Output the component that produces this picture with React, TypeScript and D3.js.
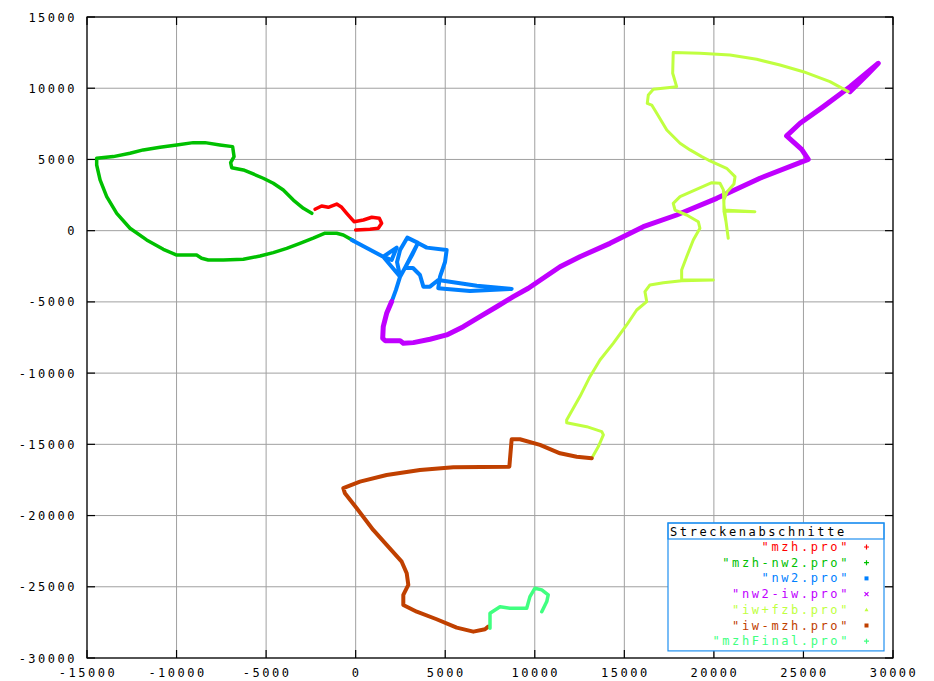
import React from 'react';
import * as d3 from 'd3';

type P = [number, number];

const xTicks = [-15000, -10000, -5000, 0, 5000, 10000, 15000, 20000, 25000, 30000];
const yTicks = [15000, 10000, 5000, 0, -5000, -10000, -15000, -20000, -25000, -30000];

const legendTitle = 'Streckenabschnitte';
const seriesNames = ['"mzh.pro"', '"mzh-nw2.pro"', '"nw2.pro"', '"nw2-iw.pro"', '"iw+fzb.pro"', '"iw-mzh.pro"', '"mzhFinal.pro"'];
const seriesColors = ['#ff0000', '#00c000', '#0080ff', '#c000ff', '#c0ff40', '#c04000', '#40ff80'];
const seriesWidths = [3.5, 3.5, 4, 5, 3, 4, 3.5];
const seriesMarkers = ['plus', 'plus', 'square', 'cross', 'triangle', 'square', 'plus'];

const mzh: P[] = [[-2270, 1500], [-1900, 1730], [-1530, 1640], [-1060, 1870], [-780, 1640], [-500, 1220], [-90, 630], [430, 750], [900, 940], [1320, 870], [1450, 520], [1260, 170], [800, 100], [0, 50]];

const mzhNw2: P[] = [[-2450, 1220], [-2920, 1570], [-3480, 2150], [-4040, 2860], [-4600, 3330], [-5160, 3680], [-5720, 3980], [-6270, 4260], [-6920, 4420], [-6980, 4770], [-6790, 5200], [-6870, 5900], [-7580, 6020], [-8410, 6180], [-9070, 6180], [-9990, 6020], [-10920, 5860], [-11860, 5670], [-12600, 5430], [-13530, 5200], [-14460, 5080], [-14460, 4610], [-14270, 3560], [-13900, 2390], [-13340, 1220], [-12600, 170], [-11670, -650], [-10740, -1310], [-9990, -1710], [-8880, -1710], [-8600, -1940], [-8230, -2060], [-7390, -2060], [-6270, -2010], [-5340, -1780], [-4600, -1540], [-3850, -1240], [-3110, -890], [-2370, -530], [-1710, -180], [-1060, -180], [-690, -300], [-130, -700]];

const nw2: P[] = [[-220, -650], [1540, -1830], [2290, -1190], [2010, -2060], [1540, -1830], [2480, -3230], [2310, -2200], [2480, -1360], [2880, -490], [3480, -860], [2750, -2620], [3200, -2620], [3590, -3110], [3780, -3930], [4150, -3930], [4610, -3460], [6760, -3860], [8710, -4090], [6380, -4230], [4610, -4040], [4710, -3230], [4990, -2200], [5080, -1360], [3970, -1190], [3480, -860], [3150, -1710], [2480, -3230], [2250, -4160], [2010, -4980]];

const nw2Iw: P[] = [[2010, -4980], [1730, -5800], [1540, -6740], [1510, -7550], [1640, -7720], [2480, -7720], [2660, -7900], [3220, -7860], [4150, -7620], [5080, -7320], [6010, -6740], [6940, -6040], [7870, -5340], [8800, -4630], [9640, -4040], [11410, -2530], [12520, -1830], [14200, -890], [16060, 280], [17920, 1100], [20160, 2270], [22570, 3680], [25270, 5010], [24900, 5710], [24060, 6650], [24810, 7540], [26110, 8710], [27600, 10110], [29180, 11750], [28600, 11000], [27600, 9760]];

const iwFzb: P[] = [[27500, 9760], [26480, 10460], [24990, 11160], [23690, 11630], [22390, 12030], [20900, 12330], [19220, 12450], [17730, 12500], [17700, 11050], [17920, 10110], [16620, 9930], [16340, 9530], [16280, 8940], [16530, 8820], [16810, 8240], [17370, 7070], [18110, 6140], [18670, 5670], [19320, 5200], [19690, 4960], [20710, 4380], [21180, 3790], [21120, 3280], [20730, 2720], [20560, 2160], [20560, 1450], [22290, 1330], [20560, 1380], [20680, 610], [20800, -530], [20680, 610], [20560, 1800], [20530, 2860], [20340, 3330], [19880, 3370], [18110, 2390], [17730, 1920], [17830, 1450], [18480, 1100], [19130, 630], [19220, 170], [18850, -650], [18480, -1830], [18200, -2760], [18200, -3460], [19970, -3460], [18200, -3510], [17180, -3650], [16430, -3810], [16150, -4280], [16250, -4980], [15690, -5570], [15130, -6620], [14380, -7910], [13640, -9080], [13080, -10250], [12520, -11650], [11780, -13290], [11780, -13480], [12900, -13760], [13740, -14110], [13830, -14340], [13550, -15160], [13180, -15980]];

const iwMzh: P[] = [[13180, -15980], [12340, -15870], [11410, -15630], [10290, -15040], [9170, -14640], [8710, -14640], [8580, -16570], [5450, -16610], [3590, -16800], [1730, -17150], [240, -17620], [-690, -18080], [-600, -18440], [60, -19490], [980, -21010], [1730, -22060], [2570, -23240], [2850, -24050], [2940, -24870], [2660, -25570], [2660, -26280], [3410, -26750], [4520, -27280], [5640, -27870], [6570, -28150], [7220, -27980], [7400, -27800]];

const mzhFinal: P[] = [[7500, -27910], [7500, -26860], [8060, -26400], [8620, -26510], [9550, -26510], [9730, -25690], [10010, -25100], [10390, -25220], [10750, -25570], [10670, -26040], [10390, -26750]];

const allSeries = [mzh, mzhNw2, nw2, nw2Iw, iwFzb, iwMzh, mzhFinal];

const W = 934;
const H = 681;
const L = 87, R = 893, T = 17, B = 658;
const FONT = '"DejaVu Sans Mono", monospace';

export default function App() {
  const x = d3.scaleLinear().domain([-15000, 30000]).range([L, R]);
  const y = d3.scaleLinear().domain([-30000, 15000]).range([B, T]);
  const line = d3.line<P>().x(d => x(d[0])).y(d => y(d[1]));

  const lgX = 668, lgY = 523, lgW = 216, lgTitleH = 16, rowH = 15.7;
  const lgH = lgTitleH + seriesNames.length * rowH + 2;

  const marker = (kind: string, cx: number, cy: number, color: string) => {
    const s = 2.5;
    if (kind === 'plus') return <path d={`M${cx - s},${cy}H${cx + s}M${cx},${cy - s}V${cy + s}`} stroke={color} strokeWidth={1.2} />;
    if (kind === 'cross') return <path d={`M${cx - 2},${cy - 2}L${cx + 2},${cy + 2}M${cx - 2},${cy + 2}L${cx + 2},${cy - 2}`} stroke={color} strokeWidth={1.2} />;
    if (kind === 'square') return <rect x={cx - 2} y={cy - 2} width={4} height={4} fill={color} />;
    return <path d={`M${cx},${cy - 2}L${cx + 2},${cy + 1.5}H${cx - 2}Z`} fill={color} />;
  };

  return (
    <svg width={W} height={H} style={{ position: 'absolute', left: 0, top: 0, background: '#fff' }}>
      <rect x={0} y={0} width={W} height={H} fill="#fff" />
      {/* grid */}
      {xTicks.map(t => (
        <line key={'gx' + t} x1={x(t)} x2={x(t)} y1={T} y2={B} stroke="#a0a0a0" strokeWidth={1} />
      ))}
      {yTicks.map(t => (
        <line key={'gy' + t} x1={L} x2={R} y1={y(t)} y2={y(t)} stroke="#a0a0a0" strokeWidth={1} />
      ))}
      {/* ticks */}
      {xTicks.map(t => (
        <g key={'tx' + t}>
          <line x1={x(t)} x2={x(t)} y1={B} y2={B - 8} stroke="#000" strokeWidth={1.2} />
          <line x1={x(t)} x2={x(t)} y1={T} y2={T + 8} stroke="#000" strokeWidth={1.2} />
          <text x={x(t) + 1} y={677} textAnchor="middle" fontFamily={FONT} fontSize={12} letterSpacing={2.5} fill="#000">{t}</text>
        </g>
      ))}
      {yTicks.map(t => (
        <g key={'ty' + t}>
          <line x1={L} x2={L + 8} y1={y(t)} y2={y(t)} stroke="#000" strokeWidth={1.2} />
          <line x1={R} x2={R - 8} y1={y(t)} y2={y(t)} stroke="#000" strokeWidth={1.2} />
          <text x={77} y={y(t) + 4.5} textAnchor="end" fontFamily={FONT} fontSize={12} letterSpacing={2.5} fill="#000">{t}</text>
        </g>
      ))}
      {/* series */}
      {allSeries.map((s, i) => (
        <path key={'s' + i} d={line(s) || ''} fill="none" stroke={seriesColors[i]} strokeWidth={seriesWidths[i]} strokeLinejoin="round" strokeLinecap="round" />
      ))}
      {/* border */}
      <rect x={L} y={T} width={R - L} height={B - T} fill="none" stroke="#000" strokeWidth={1.2} />
      {/* legend */}
      <rect x={lgX} y={lgY} width={lgW} height={lgH} fill="#fff" stroke="#2090f0" strokeWidth={1.2} />
      <rect x={lgX} y={lgY} width={lgW} height={lgTitleH} fill="none" stroke="#2090f0" strokeWidth={1.2} />
      <text x={lgX + 2} y={lgY + 12.5} fontFamily={FONT} fontSize={12} letterSpacing={2.6} fill="#000">{legendTitle}</text>
      {seriesNames.map((n, i) => {
        const cy = lgY + lgTitleH + 8 + i * rowH;
        return (
          <g key={'lg' + i}>
            <text x={850} y={cy + 4} textAnchor="end" fontFamily={FONT} fontSize={12} letterSpacing={2.6} fill={seriesColors[i]}>{n}</text>
            {marker(seriesMarkers[i], 866.5, cy, seriesColors[i])}
          </g>
        );
      })}
    </svg>
  );
}
